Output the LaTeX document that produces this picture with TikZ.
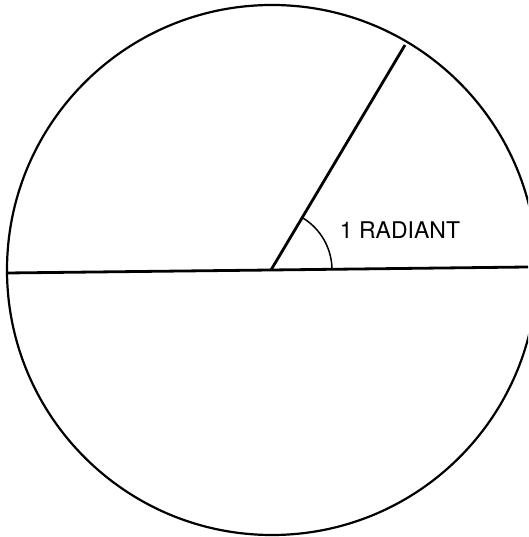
\documentclass[tikz,border=0pt]{standalone}
\usepackage{fontspec}
\setmainfont{TeX Gyre Heros}
\usetikzlibrary{calc}
\begin{document}
\begin{tikzpicture}[x=1pt,y=1pt,
  rim/.style={line width=2.2pt},
  ray/.style={line width=2.8pt},
  anglearc/.style={line width=1.5pt}]
\useasboundingbox (0,0) rectangle (528,537);
\clip (0,0) rectangle (528,537);
\fill[white] (0,0) rectangle (528,537);
\coordinate (O) at (271,267);
\coordinate (L) at (7,264);
\coordinate (R) at (528,270);
\coordinate (P) at (405,492);
\draw[rim] (272,267) circle (265);
\draw[ray] (L) -- (O) -- (R);
\draw[ray] (O) -- (P);
\draw[anglearc] ($(O)+(61,0)$) arc (0:59.2:61);
\node[font=\fontsize{23}{23}\selectfont, inner sep=0pt] (lbl) at (400,306.5) {1 RADIANT};
\end{tikzpicture}
\end{document}
